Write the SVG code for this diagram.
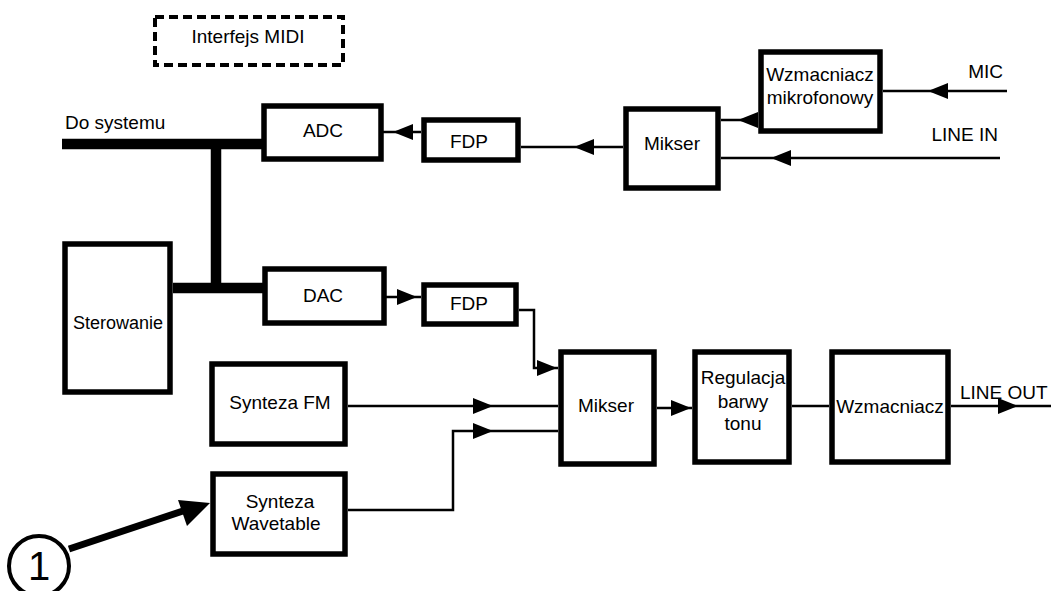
<svg xmlns="http://www.w3.org/2000/svg" xmlns:xlink="http://www.w3.org/1999/xlink" width="1051" height="591" viewBox="0 0 1051 591">
<style>
.box{fill:#fff;stroke:#000;stroke-width:5.5}
.dash{fill:none;stroke:#000;stroke-width:4;stroke-dasharray:9 5}
.t{font-family:"Liberation Sans",Arial,sans-serif;font-size:19px;fill:#000;text-anchor:middle}
.l{text-anchor:start}
.e{text-anchor:end}
.w{fill:none;stroke:#000;stroke-width:2.5}
.bus{fill:none;stroke:#000;stroke-width:10.5}
</style>
<defs>
<path id="ah" d="M0,0 L-20,-8 L-20,8 Z" fill="#000"/>
<path id="big" d="M0,0 L-32,-3 L-23,23 Z" fill="#000"/>
</defs>
<rect width="1051" height="591" fill="#fff"/>
<g id="connectors">
<path class="bus" d="M62,144 H264 M216,144 V288 M173,288 H265"/>
<path class="w" d="M421,132 H383"/>
<use xlink:href="#ah" transform="translate(393,132) rotate(180)"/>
<path class="w" d="M623,147 H521"/>
<use xlink:href="#ah" transform="translate(574,147) rotate(180)"/>
<path class="w" d="M758,120 H721"/>
<use xlink:href="#ah" transform="translate(738,120) rotate(180)"/>
<path class="w" d="M1007,91 H883"/>
<use xlink:href="#ah" transform="translate(928,91) rotate(180)"/>
<path class="w" d="M1000,158 H721"/>
<use xlink:href="#ah" transform="translate(771,158) rotate(180)"/>
<path class="w" d="M385,297 H421"/>
<use xlink:href="#ah" transform="translate(417,297)"/>
<path class="w" d="M519,310 H534 V368 H558"/>
<use xlink:href="#ah" transform="translate(557,368)"/>
<path class="w" d="M348,406 H558"/>
<use xlink:href="#ah" transform="translate(493,406)"/>
<path class="w" d="M348,510 H453 V431 H558"/>
<use xlink:href="#ah" transform="translate(493,431)"/>
<path class="w" d="M657,408 H692"/>
<use xlink:href="#ah" transform="translate(691,408)"/>
<path class="w" d="M792,406 H829"/>
<path class="w" d="M951,406 H1051"/>
<use xlink:href="#ah" transform="translate(1018,406)"/>
<path d="M69,549 L192,508" stroke="#000" stroke-width="7" fill="none"/>
<use xlink:href="#big" transform="translate(210,503)"/>
</g>
<g id="midi"><rect class="dash" x="155" y="17" width="188" height="48"/><text class="t" x="248" y="43">Interfejs MIDI</text></g>
<g id="do-systemu"><text class="t l" x="65" y="129">Do systemu</text></g>
<g id="adc"><rect class="box" x="264" y="106" width="117" height="53"/><text class="t" x="323" y="137">ADC</text></g>
<g id="fdp1"><rect class="box" x="424" y="120" width="94" height="40"/><text class="t" x="469" y="148">FDP</text></g>
<g id="mikser1"><rect class="box" x="626" y="109" width="92" height="79"/><text class="t" x="672" y="150">Mikser</text></g>
<g id="wzm-mic"><rect class="box" x="761" y="52" width="119" height="79"/><text class="t" x="820" y="81">Wzmacniacz</text><text class="t" x="820" y="104">mikrofonowy</text></g>
<g id="mic"><text class="t e" x="1003" y="78">MIC</text></g>
<g id="line-in"><text class="t e" x="998" y="141">LINE IN</text></g>
<g id="sterowanie"><rect class="box" x="65" y="244" width="105" height="148"/><text class="t" x="118" y="329" style="font-size:18px">Sterowanie</text></g>
<g id="dac"><rect class="box" x="265" y="269" width="119" height="54"/><text class="t" x="323" y="302">DAC</text></g>
<g id="fdp2"><rect class="box" x="424" y="285" width="92" height="39"/><text class="t" x="469" y="310">FDP</text></g>
<g id="fm"><rect class="box" x="212" y="364" width="133" height="80"/><text class="t" x="280" y="409">Synteza FM</text></g>
<g id="wavetable"><rect class="box" x="213" y="474" width="132" height="80"/><text class="t" x="280" y="508">Synteza</text><text class="t" x="276" y="530">Wavetable</text></g>
<g id="mikser2"><rect class="box" x="561" y="352" width="93" height="112"/><text class="t" x="606" y="412">Mikser</text></g>
<g id="regulacja"><rect class="box" x="695" y="352" width="94" height="110"/><text class="t" x="743" y="384">Regulacja</text><text class="t" x="743" y="408">barwy</text><text class="t" x="743" y="430">tonu</text></g>
<g id="wzmacniacz"><rect class="box" x="832" y="352" width="116" height="110"/><text class="t" x="890" y="413">Wzmacniacz</text></g>
<g id="line-out"><text class="t l" x="960" y="399">LINE OUT</text></g>
<g id="marker1"><circle cx="39" cy="566" r="30" fill="#fff" stroke="#000" stroke-width="4"/><text class="t" x="39" y="580" style="font-size:40px">1</text></g>
</svg>
